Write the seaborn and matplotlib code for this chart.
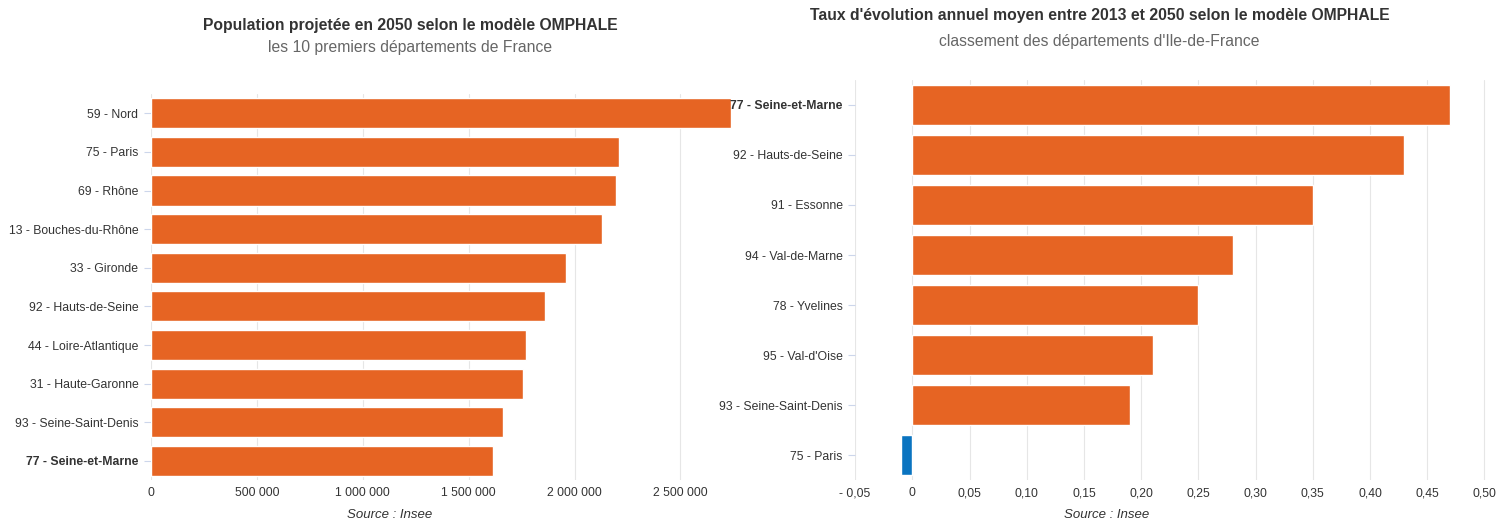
import matplotlib.pyplot as plt
import seaborn as sns
import pandas as pd
from matplotlib.ticker import FuncFormatter

sns.set_style('white')
plt.rcParams['font.family'] = ['Liberation Sans', 'DejaVu Sans']

# données
dep_fr = ['59 - Nord', '75 - Paris', '69 - Rhône', '13 - Bouches-du-Rhône', '33 - Gironde',
          '92 - Hauts-de-Seine', '44 - Loire-Atlantique', '31 - Haute-Garonne',
          '93 - Seine-Saint-Denis', '77 - Seine-et-Marne']
pop_2050 = [2740000, 2210000, 2195000, 2130000, 1960000, 1860000, 1770000, 1755000,
            1660000, 1615000]

dep_idf = ['77 - Seine-et-Marne', '92 - Hauts-de-Seine', '91 - Essonne', '94 - Val-de-Marne',
           '78 - Yvelines', "95 - Val-d'Oise", '93 - Seine-Saint-Denis', '75 - Paris']
taux = [0.47, 0.43, 0.35, 0.28, 0.25, 0.21, 0.19, -0.01]

orange = '#E66423'
bleu = '#0A74C0'

fig = plt.figure(figsize=(14.98, 5.22), dpi=100)
ax1 = fig.add_axes([0.1008, 0.080, 0.393, 0.740])
ax2 = fig.add_axes([0.5708, 0.080, 0.424, 0.767])

# graphique 1
df1 = pd.DataFrame({'dep': dep_fr, 'pop': pop_2050})
sns.barplot(data=df1, x='pop', y='dep', orient='h', color=orange, width=0.78,
            saturation=1, ax=ax1)
ax1.set_xlim(0, 2780000)
ax1.set_xticks([0, 500000, 1000000, 1500000, 2000000, 2500000])
ax1.xaxis.set_major_formatter(FuncFormatter(lambda v, p: f'{int(v):,}'.replace(',', ' ')))

# graphique 2
df2 = pd.DataFrame({'dep': dep_idf, 'taux': taux})
couleurs = [bleu if t < 0 else orange for t in taux]
sns.barplot(data=df2, x='taux', y='dep', orient='h', hue='dep', palette=couleurs,
            width=0.8, saturation=1, legend=False, ax=ax2)
ax2.set_xlim(-0.05, 0.505)
ax2.set_xticks([-0.05 + 0.05 * i for i in range(12)])


def fmt_taux(v, p):
    if abs(v) < 1e-9:
        return '0'
    s = f'{abs(v):.2f}'.replace('.', ',')
    return '- ' + s if v < 0 else s


ax2.xaxis.set_major_formatter(FuncFormatter(fmt_taux))

for ax in (ax1, ax2):
    ax.set_xlabel('')
    ax.set_ylabel('')
    ax.grid(axis='x', color='#e6e6e6', linewidth=0.8)
    ax.set_axisbelow(True)
    for s in ax.spines.values():
        s.set_visible(False)
    ax.tick_params(axis='x', labelsize=8.8, colors='#333333', length=0, pad=5)
    ax.tick_params(axis='y', labelsize=8.8, colors='#ccd6eb', labelcolor='#333333',
                   length=5, width=0.8, pad=4, left=True)
    for lab in ax.get_yticklabels():
        if lab.get_text() == '77 - Seine-et-Marne':
            lab.set_fontweight('bold')

fig.text(0.260, 0.008, 'Source : Insee', ha='center', fontsize=9.5, style='italic',
         color='#333333')
fig.text(0.739, 0.008, 'Source : Insee', ha='center', fontsize=9.5, style='italic',
         color='#333333')

fig.text(0.274, 0.942, 'Population projetée en 2050 selon le modèle OMPHALE',
         ha='center', fontsize=11.3, fontweight='bold', color='#333333')
fig.text(0.274, 0.900, 'les 10 premiers départements de France',
         ha='center', fontsize=11.3, color='#666666')
fig.text(0.734, 0.962, "Taux d'évolution annuel moyen entre 2013 et 2050 selon le modèle OMPHALE",
         ha='center', fontsize=11.3, fontweight='bold', color='#333333')
fig.text(0.734, 0.912, "classement des départements d'Ile-de-France",
         ha='center', fontsize=11.3, color='#666666')

fig.savefig('out.png', dpi=100)
